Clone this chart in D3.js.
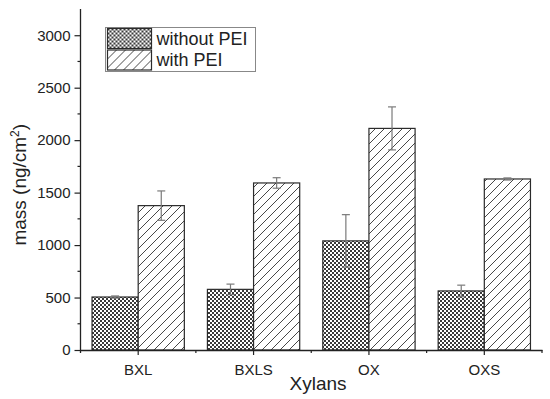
<!DOCTYPE html>
<html>
<head>
<meta charset="utf-8">
<script src="https://cdn.jsdelivr.net/npm/d3@7"></script>
<style>
  body { margin: 0; background: #fff; }
  svg { display: block; font-family: "Liberation Sans", Arial, sans-serif; }
</style>
</head>
<body>
<div id="app"></div>
<script>
const categories = ["BXL", "BXLS", "OX", "OXS"];
const seriesNames = ["without PEI", "with PEI"];
const withoutPEI = [505, 578, 1040, 563];
const withoutPEIErr = [10, 50, 250, 55];
const withPEI = [1376, 1592, 2112, 1630];
const withPEIErr = [140, 50, 205, 10];
const yTicks = [0, 500, 1000, 1500, 2000, 2500, 3000];

const width = 550, height = 399;
const margin = { top: 9, right: 8, bottom: 49, left: 80.5 };

const svg = d3.select("#app").append("svg")
  .attr("width", width)
  .attr("height", height);

const defs = svg.append("defs");

// crosshatch (checker) pattern
const checker = defs.append("pattern")
  .attr("id", "checker")
  .attr("patternUnits", "userSpaceOnUse")
  .attr("width", 4).attr("height", 4);
checker.append("rect").attr("width", 4).attr("height", 4).attr("fill", "#fff");
checker.append("rect").attr("width", 2).attr("height", 2).attr("fill", "#3a3a3a");
checker.append("rect").attr("x", 2).attr("y", 2).attr("width", 2).attr("height", 2).attr("fill", "#3a3a3a");

// diagonal hatch pattern
const hatch = defs.append("pattern")
  .attr("id", "hatch")
  .attr("patternUnits", "userSpaceOnUse")
  .attr("width", 9).attr("height", 9);
hatch.append("rect").attr("width", 9).attr("height", 9).attr("fill", "#fff");
hatch.append("path")
  .attr("d", "M0,9 L9,0 M-2,2 L2,-2 M7,11 L11,7")
  .attr("stroke", "#333").attr("stroke-width", 0.9);

const x = d3.scaleBand()
  .domain(categories)
  .range([margin.left, width - margin.right])
  .paddingInner(0.2)
  .paddingOuter(0.1);

const xSub = d3.scaleBand()
  .domain(seriesNames)
  .range([0, x.bandwidth()]);

const y = d3.scaleLinear()
  .domain([0, 3250])
  .range([height - margin.bottom, margin.top]);

const series = [
  { name: seriesNames[0], values: withoutPEI, errs: withoutPEIErr, fill: "url(#checker)" },
  { name: seriesNames[1], values: withPEI, errs: withPEIErr, fill: "url(#hatch)" }
];

// bars
series.forEach(s => {
  svg.append("g").selectAll("rect")
    .data(categories)
    .join("rect")
    .attr("x", (c) => x(c) + xSub(s.name))
    .attr("y", (c, i) => y(s.values[i]))
    .attr("width", xSub.bandwidth())
    .attr("height", (c, i) => y(0) - y(s.values[i]))
    .attr("fill", s.fill)
    .attr("stroke", "#2b2b2b")
    .attr("stroke-width", 1.2);
});

// error bars
series.forEach(s => {
  const g = svg.append("g").attr("stroke", "#7a7a7a").attr("stroke-width", 1.2);
  categories.forEach((c, i) => {
    const cx = x(c) + xSub(s.name) + xSub.bandwidth() / 2;
    const lo = y(s.values[i] - s.errs[i]);
    const hi = y(s.values[i] + s.errs[i]);
    g.append("line").attr("x1", cx).attr("x2", cx).attr("y1", lo).attr("y2", hi);
    g.append("line").attr("x1", cx - 4).attr("x2", cx + 4).attr("y1", lo).attr("y2", lo);
    g.append("line").attr("x1", cx - 4).attr("x2", cx + 4).attr("y1", hi).attr("y2", hi);
  });
});

// y axis
const yAxis = svg.append("g")
  .attr("transform", `translate(${margin.left},0)`)
  .call(d3.axisLeft(y).tickValues(yTicks).tickSize(6).tickPadding(4).tickFormat(d3.format("d")));
yAxis.select(".domain").attr("d", `M0,${y(0) + 3}V${margin.top}`).attr("stroke", "#222").attr("stroke-width", 1.3);
yAxis.selectAll(".tick line").attr("stroke", "#222").attr("stroke-width", 1.2);
yAxis.selectAll(".tick text").attr("font-size", 15).attr("fill", "#222")
  .attr("font-family", "Liberation Sans, Arial, sans-serif");

// minor y ticks
svg.append("g").selectAll("line")
  .data(d3.range(250, 3250, 500))
  .join("line")
  .attr("x1", margin.left - 3).attr("x2", margin.left)
  .attr("y1", d => y(d)).attr("y2", d => y(d))
  .attr("stroke", "#222").attr("stroke-width", 1.2);

// x axis
const xAxis = svg.append("g")
  .attr("transform", `translate(0,${y(0)})`)
  .call(d3.axisBottom(x).tickSize(5).tickPadding(9).tickSizeOuter(0));
xAxis.select(".domain").attr("stroke", "#222").attr("stroke-width", 1.3);
xAxis.selectAll(".tick line").attr("stroke", "#222").attr("stroke-width", 1.2);
xAxis.selectAll(".tick text").attr("font-size", 15).attr("fill", "#222")
  .attr("font-family", "Liberation Sans, Arial, sans-serif");

// minor x ticks at category boundaries
const step = x.step();
svg.append("g").selectAll("line")
  .data(categories)
  .join("line")
  .attr("x1", c => x(c) + x.bandwidth() / 2 + step / 2)
  .attr("x2", c => x(c) + x.bandwidth() / 2 + step / 2)
  .attr("y1", y(0)).attr("y2", y(0) + 3)
  .attr("stroke", "#222").attr("stroke-width", 1.2);

// axis titles
svg.append("text")
  .attr("x", 318)
  .attr("y", 390)
  .attr("text-anchor", "middle")
  .attr("font-size", 19)
  .attr("fill", "#222")
  .text("Xylans");

const yTitle = svg.append("text")
  .attr("transform", `translate(26,${y(1575)}) rotate(-90)`)
  .attr("text-anchor", "middle")
  .attr("font-size", 19)
  .attr("fill", "#222");
yTitle.append("tspan").text("mass (ng/cm");
yTitle.append("tspan").attr("font-size", 12).attr("dy", -7).text("2");
yTitle.append("tspan").attr("dy", 7).text(")");

// legend
const legend = svg.append("g").attr("transform", "translate(105.5,27.5)");
legend.append("rect")
  .attr("width", 150).attr("height", 44)
  .attr("fill", "#fff").attr("stroke", "#888").attr("stroke-width", 1);
series.forEach((s, i) => {
  const row = legend.append("g").attr("transform", `translate(2,${1 + i * 21.5})`);
  row.append("rect")
    .attr("width", 44).attr("height", 20)
    .attr("fill", s.fill).attr("stroke", "#2b2b2b").attr("stroke-width", 1.2);
  row.append("text")
    .attr("x", 49).attr("y", 16)
    .attr("font-size", 18)
    .attr("fill", "#222")
    .text(s.name);
});
</script>
</body>
</html>
